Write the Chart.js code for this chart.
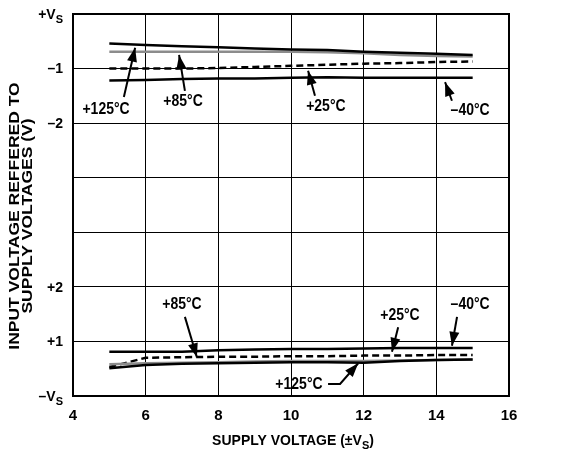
<!DOCTYPE html>
<html>
<head>
<meta charset="utf-8">
<script src="https://cdn.jsdelivr.net/npm/chart.js@4.4.1/dist/chart.umd.min.js"></script>
<style>
  html, body { margin: 0; padding: 0; background: #fff; }
  #wrap { width: 574px; height: 450px; }
</style>
</head>
<body>
<div id="wrap"><canvas id="chart" width="574" height="450"></canvas></div>
<script>
// supply voltage (±VS)
const supplyVoltage = [5, 6, 7, 8, 9, 10, 11, 12, 13, 14, 15];

// upper limit, volts relative to +VS
const hi125 = [-0.54, -0.57, -0.59, -0.61, -0.63, -0.65, -0.66, -0.69, -0.71, -0.73, -0.75];
const hi85  = [-0.69, -0.69, -0.69, -0.69, -0.69, -0.69, -0.70, -0.72, -0.75, -0.77, -0.78];
const hi25  = [-1.00, -1.00, -1.00, -0.99, -0.97, -0.95, -0.93, -0.91, -0.90, -0.88, -0.87];
const hiM40 = [-1.22, -1.21, -1.19, -1.18, -1.18, -1.17, -1.16, -1.17, -1.17, -1.17, -1.17];

// lower limit, volts relative to -VS
const lo125 = [0.51, 0.57, 0.59, 0.60, 0.61, 0.62, 0.62, 0.61, 0.64, 0.66, 0.67];
const lo85  = [0.58, 0.60, 0.61, 0.62, 0.63, 0.64, 0.64, 0.64, 0.65, 0.66, 0.67];
const lo25  = [0.53, 0.70, 0.71, 0.72, 0.72, 0.73, 0.73, 0.74, 0.74, 0.75, 0.75];
const loM40 = [0.81, 0.81, 0.81, 0.84, 0.85, 0.86, 0.86, 0.87, 0.88, 0.88, 0.88];

// split y axis: 0 = -VS, 7 = +VS
const yTickLabels = ['–V_S', '+1', '+2', '', '', '–2', '–1', '+V_S'];
const xTicks = [4, 6, 8, 10, 12, 14, 16];
const Y_TOP = 7;

const FONT = '"Liberation Sans", Arial, sans-serif';

const toPts = (vals, offset) => vals.map((v, i) => ({ x: supplyVoltage[i], y: v + offset }));

function line(label, vals, offset, color, dash) {
  return {
    label,
    data: toPts(vals, offset),
    borderColor: color,
    borderWidth: 2.5,
    borderDash: dash || [],
    pointRadius: 0,
    tension: 0,
    fill: false
  };
}

// callouts: text position, then arrow path ending at the tip (data coords)
const callouts = [
  { text: '+125°C', at: [4.91, 5.26], path: [[5.40, 5.48], [5.71, 6.38]] },
  { text: '+85°C',  at: [7.03, 5.39], path: [[7.08, 5.59], [6.92, 6.25]] },
  { text: '+25°C',  at: [10.96, 5.30], path: [[10.66, 5.50], [10.47, 5.96]] },
  { text: '–40°C',  at: [14.93, 5.24], path: [[14.43, 5.41], [14.24, 5.75]] },
  { text: '+85°C',  at: [7.00, 1.67], path: [[7.08, 1.45], [7.41, 0.71]] },
  { text: '+25°C',  at: [13.00, 1.48], path: [[12.95, 1.26], [12.78, 0.81]] },
  { text: '–40°C',  at: [14.93, 1.67], path: [[14.57, 1.45], [14.43, 0.92]] },
  { text: '+125°C', at: [10.22, 0.22], path: [[11.02, 0.22], [11.35, 0.22], [11.85, 0.60]] }
];

// text with an "_X" subscript part
function drawSub(ctx, str, x, y, align, size) {
  const parts = str.split('_');
  const main = parts[0], sub = parts[1] || '', tail = parts[2] || '';
  ctx.font = 'bold ' + size + 'px ' + FONT;
  const wMain = ctx.measureText(main).width;
  const wTail = ctx.measureText(tail).width;
  ctx.font = 'bold ' + Math.round(size * 0.78) + 'px ' + FONT;
  const wSub = ctx.measureText(sub).width;
  const total = wMain + wSub + wTail;
  let x0 = align === 'right' ? x - total : align === 'center' ? x - total / 2 : x;
  ctx.textAlign = 'left';
  ctx.textBaseline = 'middle';
  ctx.font = 'bold ' + size + 'px ' + FONT;
  ctx.fillText(main, x0, y);
  ctx.font = 'bold ' + Math.round(size * 0.78) + 'px ' + FONT;
  ctx.fillText(sub, x0 + wMain, y + size * 0.38);
  ctx.font = 'bold ' + size + 'px ' + FONT;
  ctx.fillText(tail, x0 + wMain + wSub, y);
}

const decor = {
  id: 'decor',
  afterDatasetsDraw(chart) {
    const { ctx, chartArea: a, scales: { x, y } } = chart;
    ctx.save();
    ctx.fillStyle = '#000';
    ctx.strokeStyle = '#000';

    // frame
    ctx.lineWidth = 2;
    ctx.strokeRect(a.left, a.top, a.right - a.left, a.bottom - a.top);

    // callouts
    callouts.forEach(c => {
      const pts = c.path.map(p => [x.getPixelForValue(p[0]), y.getPixelForValue(p[1])]);
      ctx.lineWidth = 2;
      ctx.beginPath();
      ctx.moveTo(pts[0][0], pts[0][1]);
      for (let i = 1; i < pts.length; i++) ctx.lineTo(pts[i][0], pts[i][1]);
      ctx.stroke();
      const [tx, ty] = pts[pts.length - 1];
      const [px, py] = pts[pts.length - 2];
      const ang = Math.atan2(ty - py, tx - px);
      ctx.save();
      ctx.translate(tx, ty);
      ctx.rotate(ang);
      ctx.beginPath();
      ctx.moveTo(0, 0);
      ctx.lineTo(-14, -5);
      ctx.lineTo(-14, 5);
      ctx.closePath();
      ctx.fill();
      ctx.restore();

      ctx.font = 'bold 14px ' + FONT;
      ctx.textAlign = 'center';
      ctx.textBaseline = 'middle';
      ctx.save();
      ctx.translate(x.getPixelForValue(c.at[0]), y.getPixelForValue(c.at[1]));
      ctx.scale(1, 1.2);
      ctx.fillText(c.text, 0, 0);
      ctx.restore();
    });

    // y tick labels
    yTickLabels.forEach((t, i) => {
      if (!t) return;
      drawSub(ctx, t, a.left - 10, y.getPixelForValue(i) + 1, 'right', 14);
    });

    // axis titles
    drawSub(ctx, 'SUPPLY VOLTAGE (±V_S_)', (a.left + a.right) / 2 + 2, 441, 'center', 14);

    ctx.font = 'bold 14px ' + FONT;
    ctx.textAlign = 'center';
    ctx.textBaseline = 'middle';
    ctx.save();
    ctx.translate(15, 216);
    ctx.rotate(-Math.PI / 2);
    ctx.scale(1.25, 1);
    ctx.fillText('INPUT VOLTAGE REFFERED TO', 0, 0);
    ctx.fillText('SUPPLY VOLTAGES (V)', 0, 13);
    ctx.restore();

    ctx.restore();
  }
};

new Chart(document.getElementById('chart'), {
  type: 'line',
  data: {
    datasets: [
      line('+125°C', hi125, Y_TOP, '#000'),
      line('+85°C', hi85, Y_TOP, '#8c8c8c'),
      line('+25°C', hi25, Y_TOP, '#000', [7, 4]),
      line('–40°C', hiM40, Y_TOP, '#000'),
      line('+125°C', lo125, 0, '#000'),
      line('+85°C', lo85, 0, '#8c8c8c'),
      line('+25°C', lo25, 0, '#000', [7, 4]),
      line('–40°C', loM40, 0, '#000')
    ]
  },
  options: {
    responsive: false,
    animation: false,
    layout: { padding: { left: 73, right: 65, top: 14, bottom: 0 } },
    plugins: { legend: { display: false }, tooltip: { enabled: false } },
    scales: {
      x: {
        type: 'linear',
        min: 4,
        max: 16,
        afterBuildTicks: s => { s.ticks = xTicks.map(v => ({ value: v })); },
        afterFit: s => { s.height = 54; },
        grid: { color: '#000', lineWidth: 1, drawTicks: false },
        border: { color: '#000', width: 2 },
        ticks: {
          color: '#000',
          padding: 11,
          font: { family: FONT, size: 15, weight: 'bold' }
        }
      },
      y: {
        type: 'linear',
        min: 0,
        max: Y_TOP,
        afterBuildTicks: s => { s.ticks = yTickLabels.map((t, i) => ({ value: i })); },
        afterFit: s => { s.width = 0; },
        grid: { color: '#000', lineWidth: 1, drawTicks: false },
        border: { color: '#000', width: 2 },
        ticks: { display: false }
      }
    }
  },
  plugins: [decor]
});
</script>
</body>
</html>
